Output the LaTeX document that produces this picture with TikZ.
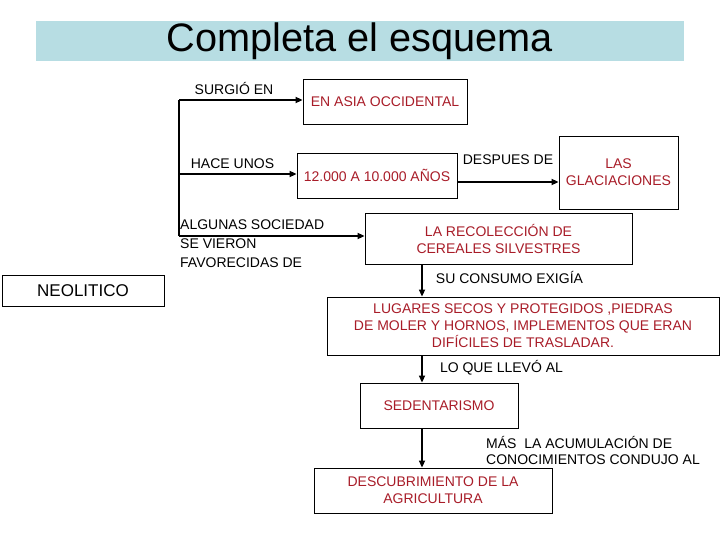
\documentclass[tikz,border=0pt]{standalone}
\usepackage{fontspec}
\setmainfont{Liberation Sans}
\usetikzlibrary{arrows.meta}
\definecolor{titleband}{RGB}{183,221,227}
\definecolor{boxtext}{RGB}{168,28,40}

\begin{document}
\begin{tikzpicture}[x=1pt,y=-1pt,
  answer/.style={draw,line width=0.8pt,inner sep=0pt,align=center,text=boxtext,font=\fontsize{14}{17}\selectfont},
  link/.style={inner sep=0pt,align=left,font=\fontsize{14}{17}\selectfont},
  arr/.style={line width=1.6pt,-{Triangle[length=7pt,width=6pt]}}]
  \useasboundingbox (0,0) rectangle (720,540);
  % title band
  \node[fill=titleband,minimum width=648pt,minimum height=40pt,inner sep=0pt,font=\fontsize{39.7}{42}\selectfont] (title) at (360,41) {Completa el esquema};
  % the answer boxes
  \node[answer,minimum width=164pt,minimum height=45pt] (asia) at (385,101.5) {EN ASIA OCCIDENTAL};
  \node[answer,minimum width=160pt,minimum height=45pt] (anos) at (377,175.5) {12.000 A 10.000 AÑOS};
  \node[answer,minimum width=119pt,minimum height=73pt] (glac) at (618.5,172.5) {LAS\\GLACIACIONES};
  \node[answer,minimum width=267pt,minimum height=51pt] (recol) at (498.5,238.5) {LA RECOLECCIÓN DE\\CEREALES SILVESTRES};
  \node[answer,minimum width=392pt,minimum height=58pt] (lugares) at (523,326) {LUGARES SECOS Y PROTEGIDOS ,PIEDRAS\\DE MOLER Y HORNOS, IMPLEMENTOS QUE ERAN\\DIFÍCILES DE TRASLADAR.};
  \node[answer,minimum width=158pt,minimum height=45pt] (sedent) at (439,405.5) {SEDENTARISMO};
  \node[answer,minimum width=238pt,minimum height=45pt] (descub) at (433,490.5) {DESCUBRIMIENTO DE LA\\AGRICULTURA};
  \node[draw,line width=0.8pt,minimum width=162pt,minimum height=31pt,inner sep=0pt,font=\fontsize{17}{20}\selectfont] (neo) at (83,290.5) {NEOLITICO};
  % connector labels
  \node[link] (surgio) at (234,89) {SURGIÓ EN};
  \node[link] (hace) at (232.5,164) {HACE UNOS};
  \node[link,anchor=west,font=\fontsize{14}{19}\selectfont] (algunas) at (180,244) {ALGUNAS SOCIEDAD\\SE VIERON\\FAVORECIDAS DE};
  \node[link] (despues) at (508,160) {DESPUES DE};
  \node[link] (consumo) at (509.5,277) {SU CONSUMO EXIGÍA};
  \node[link] (llevo) at (501.5,368) {LO QUE LLEVÓ AL};
  \node[link,anchor=west,font=\fontsize{14}{16}\selectfont] (mas) at (486,450) {MÁS\ \ LA ACUMULACIÓN DE\\CONOCIMIENTOS CONDUJO AL};
  % left bracket
  \coordinate (root) at (179,100);
  \coordinate (fork) at (179,174);
  \coordinate (foot) at (179,236);
  \draw[line width=1.6pt] (root) -- (foot);
  \foreach \c/\n in {root/asia,fork/anos,foot/recol} \draw[arr] (\c) -- (\c -| \n.west);
  \draw[arr] ([yshift=-6.5pt]anos.east) -- ([yshift=-6.5pt]anos.east -| glac.west);
  % the chain down
  \coordinate (spine) at (422,0);
  \foreach \a/\b in {recol/lugares,lugares/sedent,sedent/descub}
    \draw[arr] (\a.south -| spine) -- (\b.north -| spine);
\end{tikzpicture}
\end{document}
